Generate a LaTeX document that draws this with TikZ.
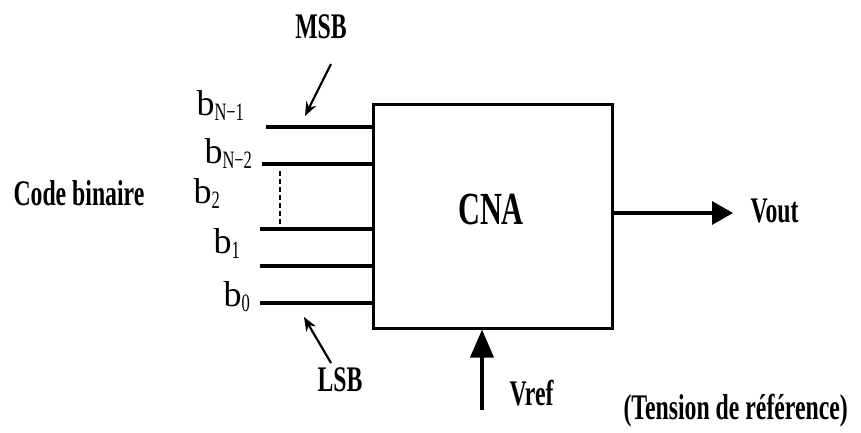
\documentclass[tikz,border=0pt]{standalone}
\usepackage{fontspec}
\setmainfont{Liberation Serif}
\newfontfamily\narrowfont{Liberation Serif}[FakeStretch=0.66]
\usetikzlibrary{arrows.meta, positioning, calc}
\tikzset{
  every picture/.style={x=1pt, y=-1pt, line width=3pt},
  lbl/.style={font=\narrowfont\bfseries\fontsize{36}{40}\selectfont, inner sep=0pt},
  bitlbl/.style={font=\fontsize{36}{40}\selectfont, inner sep=0pt, anchor=base west},
  wire/.style={line width=3.2pt},
  pointer/.style={-{Stealth[length=14pt, width=11pt]}, line width=2.2pt},
  bigarrow/.style={-{Triangle[length=#1, width=23pt]}, line width=3.5pt},
  bigarrow/.default=22pt,
}
\newcommand{\bitname}[1]{b\raisebox{-5pt}{\narrowfont\fontsize{25}{27}\selectfont #1}}

\begin{document}
\begin{tikzpicture}
  \useasboundingbox (0,0) rectangle (861,432);
  % the converter block
  \node[draw, minimum width=239pt, minimum height=224pt, inner sep=0pt] (cna) at (492.5,216) {};
  \node[lbl, font=\narrowfont\bfseries\fontsize{46}{50}\selectfont] (cnatext) at (491,209) {CNA};
  % input bits
  \coordinate (w1) at (266,127);
  \coordinate (w2) at (262,164);
  \coordinate (w3) at (260,229);
  \coordinate (w4) at (260,266);
  \coordinate (w5) at (260,303);
  \foreach \w in {w1,w2,w3,w4,w5} \draw[wire] (\w) -- (\w -| cna.west);
  \node[bitlbl] (bN1) at (195,115) {\bitname{N−1}};
  \node[bitlbl] (bN2) at (203,163) {\bitname{N−2}};
  \node[bitlbl] (b2) at (192,203) {\bitname{2}};
  \node[bitlbl] (b1) at (212,253) {\bitname{1}};
  \node[bitlbl] (b0) at (222,306) {\bitname{0}};
  \coordinate (dots) at (280,171);
  \draw[line width=1.8pt, dash pattern=on 5pt off 3pt] (dots) -- (dots |- w3);
  \node[lbl, anchor=base west] (code) at (12,205) {Code binaire};
  % MSB / LSB pointers
  \node[lbl] (msb) at (321,27) {MSB};
  \coordinate (msbtail) at (331,64);
  \coordinate (msbtip) at (305,116);
  \draw[pointer] (msbtail) -- (msbtip);
  \node[lbl] (lsb) at (340,380) {LSB};
  \coordinate (lsbtail) at (331,363);
  \coordinate (lsbtip) at (304,317);
  \draw[pointer] (lsbtail) -- (lsbtip);
  % output and reference
  \coordinate (outtip) at (733,213);
  \draw[bigarrow=21pt] (cna.east |- outtip) -- (outtip);
  \node[lbl, anchor=base west] (vout) at (749,222) {Vout};
  \coordinate (reftail) at (482,410);
  \draw[bigarrow=28pt] (reftail) -- (reftail |- cna.south);
  \node[lbl, anchor=base west] (vref) at (508,405) {Vref};
  \node[lbl, anchor=base west] (tension) at (622,419) {(Tension de référence)};
\end{tikzpicture}
\end{document}
